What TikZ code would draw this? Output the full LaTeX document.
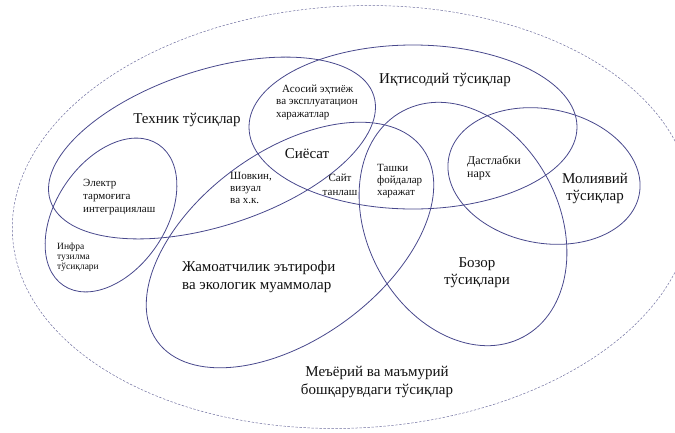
\documentclass[tikz,border=0pt]{standalone}
\usepackage{fontspec}
\setmainfont{Liberation Serif}
\begin{document}
\definecolor{ringblue}{RGB}{72,72,140}
\definecolor{outerblue}{RGB}{112,112,160}
\definecolor{labelink}{RGB}{16,16,16}
\begin{tikzpicture}[x=1pt,y=-1pt,
  ring/.style={draw=ringblue,line width=0.8pt},
  outerring/.style={draw=outerblue,line width=0.5pt,dash pattern=on 2.4pt off 1.6pt},
  biglabel/.style={text=labelink,inner sep=0pt,font=\fontsize{15}{18.5}\selectfont},
  midlabel/.style={text=labelink,inner sep=0pt,font=\fontsize{11}{12.5}\selectfont},
  smalllabel/.style={text=labelink,inner sep=0pt,font=\fontsize{9.5}{10.2}\selectfont}]
\useasboundingbox (0,0) rectangle (675,432);
\clip (0,0) rectangle (675,432);

% outer dashed boundary: regulatory and administrative barriers
\draw[outerring,rotate around={3:(352,217)}] (352,217) ellipse [x radius=340,y radius=211];

% barrier groups
\draw[ring,rotate around={18:(212,148)}] (212,148) ellipse [x radius=170,y radius=78];   % technical
\draw[ring] (413,127) ellipse [x radius=164,y radius=82];                                 % economic
\draw[ring,rotate around={56:(111,215)}] (111,215) ellipse [x radius=85,y radius=55];     % infrastructure
\draw[ring,rotate around={36:(290,245)}] (290,245) ellipse [x radius=164,y radius=94];    % public acceptance
\draw[ring,rotate around={-62:(463,224)}] (463,224) ellipse [x radius=128,y radius=96];   % market
\draw[ring,rotate around={-11:(544,176)}] (544,176) ellipse [x radius=97,y radius=67];    % financial

% labels
\node[biglabel] (tech) at (187,120) {Техник тўсиқлар};
\node[biglabel] (econ) at (445,80) {Иқтисодий тўсиқлар};
\node[midlabel,align=left,anchor=west] (basic) at (276,102) {\hspace*{6pt}Асосий эҳтиёж\\ва эксплуатацион\\харажатлар};
\node[biglabel] (policy) at (307,154) {Сиёсат};
\node[midlabel,align=left,anchor=west,font=\fontsize{11}{12}\selectfont] (noise) at (230,188) {Шовкин,\\визуал\\ва х.к.};
\node[midlabel,align=center,font=\fontsize{11}{14}\selectfont] (site) at (340,185) {Сайт\\танлаш};
\node[midlabel,align=left,anchor=west,font=\fontsize{11}{12}\selectfont] (extern) at (377,181) {Ташки\\фойдалар\\харажат};
\node[midlabel,align=left,anchor=west,font=\fontsize{12}{13}\selectfont] (price) at (467,168) {Дастлабки\\нарх};
\node[biglabel,align=center,font=\fontsize{15}{17}\selectfont] (fin) at (595,188) {Молиявий\\тўсиқлар};
\node[biglabel,align=center,font=\fontsize{15}{17}\selectfont] (market) at (477,273) {Бозор\\тўсиқлари};
\node[biglabel,align=left,anchor=west] (public) at (182,277) {Жамоатчилик эътирофи\\ва экологик муаммолар};
\node[biglabel,align=center] (regul) at (377,382) {Меъёрий ва маъмурий\\бошқарувдаги тўсиқлар};
\node[midlabel,align=left,anchor=west,font=\fontsize{11}{13}\selectfont] (grid) at (83,197) {Электр\\тармоғига\\интеграциялаш};
\node[smalllabel,align=left,anchor=west] (infra) at (57,257) {Инфра\\тузилма\\тўсиқлари};
\end{tikzpicture}
\end{document}
